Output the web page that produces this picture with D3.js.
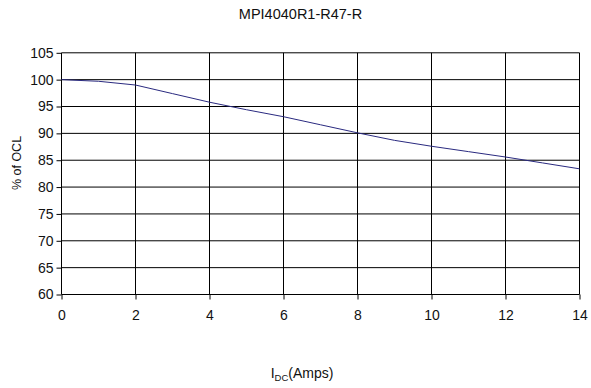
<!DOCTYPE html>
<html>
<head>
<meta charset="utf-8">
<script src="https://cdn.jsdelivr.net/npm/d3@7"></script>
<style>
  body { margin: 0; background: #fff; }
  svg { display: block; font-family: "Liberation Sans", Arial, sans-serif; }
</style>
</head>
<body>
<svg id="chart" width="591" height="388"></svg>
<script>
// values
var current = [0, 1, 2, 3, 4, 5, 6, 7, 8, 9, 10, 11, 12, 13, 14];
var pctOCL = [100, 99.7, 99.0, 97.4, 95.8, 94.4, 93.1, 91.6, 90.1, 88.7, 87.6, 86.6, 85.6, 84.5, 83.4];
var xTicks = [0, 2, 4, 6, 8, 10, 12, 14];
var yTicks = [60, 65, 70, 75, 80, 85, 90, 95, 100, 105];

(function () {
  var svg = d3.select("#chart");
  var m = {left: 61.5, right: 579.5, top: 52.8, bottom: 294.5};
  var fs = 14;

  var x = d3.scaleLinear().domain([0, 14]).range([m.left, m.right]);
  var y = d3.scaleLinear().domain([60, 105]).range([m.bottom, m.top]);

  // grid
  svg.append("g").selectAll("line").data(yTicks).enter().append("line")
    .attr("x1", m.left).attr("x2", m.right)
    .attr("y1", d => y(d)).attr("y2", d => y(d))
    .attr("stroke", "#000").attr("stroke-width", 1);
  svg.append("g").selectAll("line").data(xTicks).enter().append("line")
    .attr("x1", d => x(d)).attr("x2", d => x(d))
    .attr("y1", m.top).attr("y2", m.bottom)
    .attr("stroke", "#000").attr("stroke-width", 1);

  // axes
  var yAxis = svg.append("g")
    .attr("transform", "translate(" + m.left + ",0)")
    .call(d3.axisLeft(y).tickValues(yTicks).tickSize(5).tickPadding(3));
  var xAxis = svg.append("g")
    .attr("transform", "translate(0," + m.bottom + ")")
    .call(d3.axisBottom(x).tickValues(xTicks).tickSize(5).tickPadding(11));
  [yAxis, xAxis].forEach(a => {
    a.select(".domain").remove();
    a.selectAll("line").attr("stroke", "#000");
    a.selectAll("text").attr("font-size", fs).attr("fill", "#111")
      .attr("font-family", "Liberation Sans, Arial, sans-serif");
  });

  // curve
  var line = d3.line()
    .x((d, i) => x(current[i]))
    .y(d => y(d));
  svg.append("path")
    .datum(pctOCL)
    .attr("fill", "none")
    .attr("stroke", "#2a2a80")
    .attr("stroke-width", 1)
    .attr("d", line);

  // titles
  svg.append("text")
    .attr("x", 300.5).attr("y", 19)
    .attr("text-anchor", "middle").attr("font-size", 14.5).attr("fill", "#111")
    .text("MPI4040R1-R47-R");

  svg.append("text")
    .attr("transform", "translate(21,163) rotate(-90)")
    .attr("text-anchor", "middle").attr("font-size", 12.5).attr("fill", "#111")
    .text("% of OCL");

  var xl = svg.append("text")
    .attr("x", 302).attr("y", 378)
    .attr("text-anchor", "middle").attr("font-size", fs).attr("fill", "#111");
  xl.append("tspan").text("I");
  xl.append("tspan").attr("font-size", 9.5).attr("dy", 3).text("DC");
  xl.append("tspan").attr("dy", -3).text("(Amps)");
})();
</script>
</body>
</html>
